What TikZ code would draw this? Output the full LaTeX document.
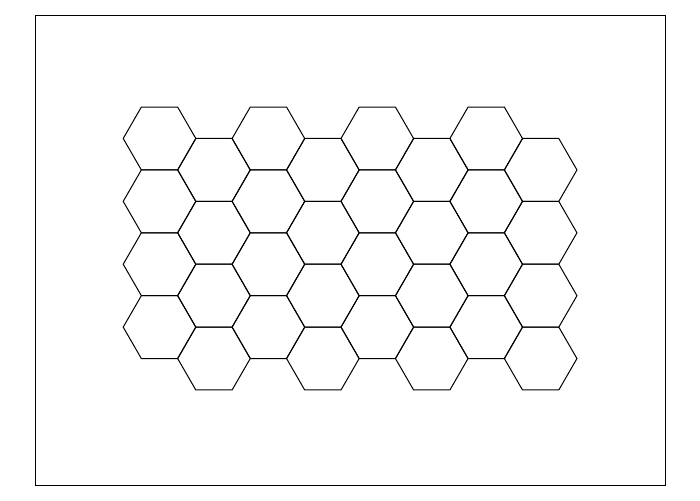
\documentclass[tikz,border=0pt]{standalone}
\begin{document}
\begin{tikzpicture}[x=1pt,y=-1pt,line width=1pt,
  hexcell/.style={draw=black,line join=miter},
  framebox/.style={draw=black}]
\useasboundingbox (0,0) rectangle (700,500);
\draw[framebox] (35.5,15.5) rectangle (665.5,485.5);
\def\R{36.3}
\foreach \c in {0,...,7}{
  \foreach \r in {0,...,3}{
    \pgfmathsetmacro{\cx}{159.5+54.45*\c}
    \pgfmathsetmacro{\cy}{138.5+62.87*\r+31.43*mod(\c,2)}
    \draw[hexcell,shift={(\cx,\cy)}] (0:\R) -- (60:\R) -- (120:\R) -- (180:\R) -- (240:\R) -- (300:\R) -- cycle;
  }
}
\end{tikzpicture}
\end{document}
